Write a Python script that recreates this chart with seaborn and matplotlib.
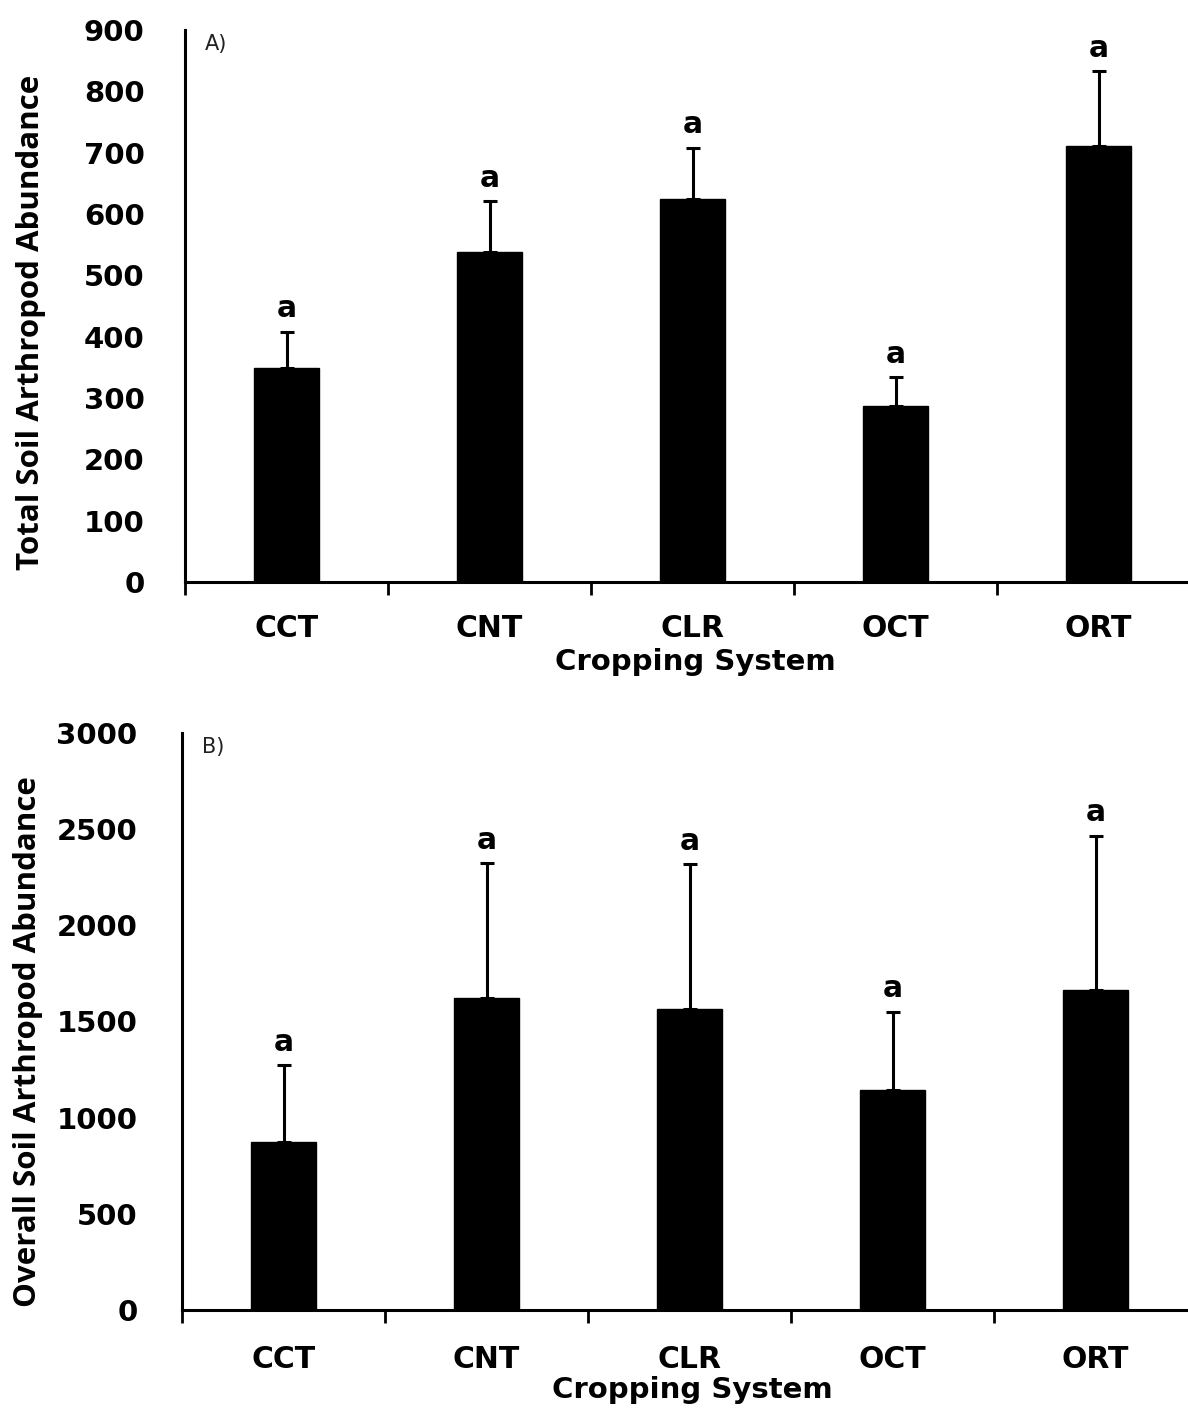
import numpy as np
import pandas as pd
import matplotlib
matplotlib.use("Agg")
import matplotlib.pyplot as plt
import seaborn as sns

# Cropping systems
systems = ["CCT", "CNT", "CLR", "OCT", "ORT"]

# A) Total soil arthropod abundance: means and standard errors
total_mean = [349, 538, 624, 287, 711]
total_se = [59, 83, 84, 47, 122]
total_letters = ["a", "a", "a", "a", "a"]

# B) Overall soil arthropod abundance: means and standard errors
overall_mean = [874, 1622, 1565, 1144, 1664]
overall_se = [400, 702, 754, 406, 801]
overall_letters = ["a", "a", "a", "a", "a"]

sns.set_style("ticks")
plt.rcParams["font.family"] = ["DejaVu Sans"]
plt.rcParams["text.color"] = "black"
plt.rcParams["axes.labelcolor"] = "black"
plt.rcParams["xtick.color"] = "black"
plt.rcParams["ytick.color"] = "black"
plt.rcParams["xtick.labelcolor"] = "black"
plt.rcParams["ytick.labelcolor"] = "black"

fig = plt.figure(figsize=(11.88, 14.08), dpi=100)

panels = [
    dict(mean=total_mean, se=total_se, letters=total_letters,
         ylabel="Total Soil Arthropod Abundance", tag="A)",
         ylim=900, ystep=100, rect=[185 / 1188, 1 - 582 / 1408, 1015 / 1188, 552 / 1408],
         ypad=29, xpad=23, ylabel_y=0.47, xlabel_y=-0.12),
    dict(mean=overall_mean, se=overall_se, letters=overall_letters,
         ylabel="Overall Soil Arthropod Abundance", tag="B)",
         ylim=3000, ystep=500, rect=[182 / 1188, 1 - 1310 / 1408, 1015 / 1188, 577 / 1408],
         ypad=32, xpad=25, ylabel_y=0.465, xlabel_y=-0.115),
]

for p in panels:
    ax = fig.add_axes(p["rect"])
    df = pd.DataFrame({"system": systems, "value": p["mean"]})
    sns.barplot(data=df, x="system", y="value", color="black", width=0.325,
                errorbar=None, saturation=1, edgecolor="black", ax=ax)

    x = np.arange(len(systems))
    ax.errorbar(x, p["mean"], yerr=[np.zeros(len(systems)), p["se"]], fmt="none",
                ecolor="black", elinewidth=2.2, capsize=5, capthick=2.2, zorder=1)

    for i, (m, s, lab) in enumerate(zip(p["mean"], p["se"], p["letters"])):
        ax.annotate(lab, xy=(i, m + s), xytext=(0, 16.5), textcoords="offset points",
                    ha="center", va="center", fontsize=21.5, fontweight="bold",
                    color="black")

    ax.set_xlim(-0.5, len(systems) - 0.5)
    ax.set_ylim(0, p["ylim"])
    ax.set_yticks(np.arange(0, p["ylim"] + 1, p["ystep"]))
    ax.set_yticklabels([str(v) for v in np.arange(0, p["ylim"] + 1, p["ystep"])],
                       fontsize=21, fontweight="bold")
    ax.tick_params(axis="y", length=0, pad=p["ypad"])

    # Boundary ticks between categories, labels centred under bars
    ax.set_xticks(np.arange(-0.5, len(systems), 1))
    ax.set_xticklabels([])
    ax.set_xticks(x, minor=True)
    ax.set_xticklabels(systems, minor=True, fontsize=21.5, fontweight="bold")
    ax.tick_params(axis="x", which="major", length=9, width=2, direction="out")
    ax.tick_params(axis="x", which="minor", length=0, pad=p["xpad"])

    sns.despine(ax=ax)
    for side in ("left", "bottom"):
        ax.spines[side].set_linewidth(2.2)
        ax.spines[side].set_color("black")

    ax.set_xlabel("Cropping System", fontsize=21, fontweight="bold")
    ax.xaxis.set_label_coords(0.503, p["xlabel_y"])
    ax.set_ylabel(p["ylabel"], fontsize=22.5, fontweight="bold",
                  family=["Open Sans", "DejaVu Sans"], va="center")
    ax.yaxis.set_label_coords(-0.152, p["ylabel_y"])

    ax.text(0.02, 0.975, p["tag"], transform=ax.transAxes, fontsize=15,
            color="#222222", ha="left", va="center")

fig.savefig("out.png", dpi=100)
